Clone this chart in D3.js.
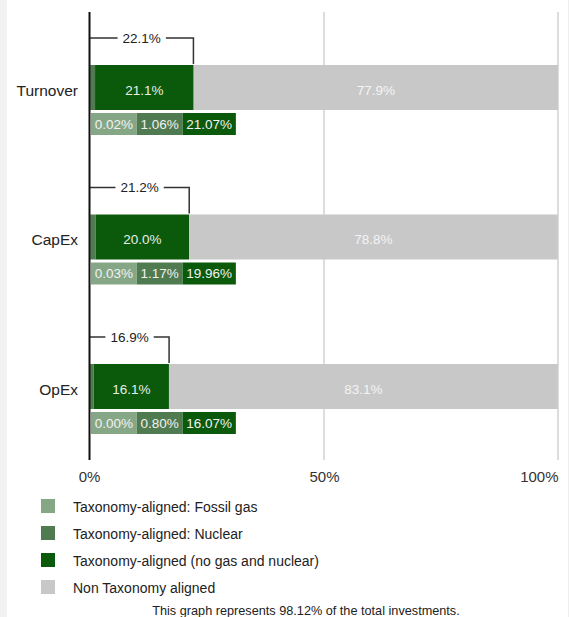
<!DOCTYPE html>
<html>
<head>
<meta charset="utf-8">
<script src="https://cdn.jsdelivr.net/npm/d3@7"></script>
<style>
  html, body { margin: 0; padding: 0; background: #fff; }
  svg { display: block; font-family: "Liberation Sans", Arial, sans-serif; }
</style>
</head>
<body>
<div id="chart"></div>
<script>
// chart data
const categories = ["Turnover", "CapEx", "OpEx"];
const fossilGas = [0.02, 0.03, 0.00];
const nuclear = [1.06, 1.17, 0.80];
const alignedOther = [21.07, 19.96, 16.07];
const nonAligned = [77.9, 78.8, 83.1];
const alignedTotal = [22.1, 21.2, 16.9];
const tickValues = [0, 50, 100];

const legendLabels = [
    "Taxonomy-aligned: Fossil gas",
    "Taxonomy-aligned: Nuclear",
    "Taxonomy-aligned (no gas and nuclear)",
    "Non Taxonomy aligned"
];
const colors = ["#86a786", "#507a50", "#0b590b", "#c8c8c8"];
const footnote = "This graph represents 98.12% of the total investments.";

const width = 569;
const height = 617;

const svg = d3.select("#chart")
    .append("svg")
    .attr("width", width)
    .attr("height", height);

// page frame: grey strip on the left, hairline on the right
svg.append("rect")
    .attr("x", 0).attr("y", 0)
    .attr("width", 7).attr("height", height)
    .style("fill", "#f2f2f2");
svg.append("line")
    .attr("x1", 568.5).attr("x2", 568.5)
    .attr("y1", 0).attr("y2", height)
    .style("stroke", "#eeeeee");

const x = d3.scaleLinear().domain([0, 100]).range([90, 558]);
const y = d3.scaleBand().domain(categories).range([15, 463.5]);

const barTop = d => y(d) + 50;
const barH = 45;
const subTop = d => y(d) + 98;
const subH = 22;

// gridlines
svg.append("g")
    .selectAll("line")
    .data(tickValues.filter(t => t > 0))
    .join("line")
    .attr("x1", d => x(d)).attr("x2", d => x(d))
    .attr("y1", 12).attr("y2", 460)
    .style("stroke", "#dddddd")
    .style("stroke-width", 2);

// stacked bars
const rows = categories.map((c, i) => {
    const vals = [fossilGas[i], nuclear[i], alignedOther[i], nonAligned[i]];
    let acc = 0;
    const segs = vals.map((v, k) => {
        const s = { cat: c, k, v, x0: acc, x1: acc + v };
        acc += v;
        return s;
    });
    return { cat: c, i, segs };
});

const rowG = svg.append("g")
    .selectAll("g")
    .data(rows)
    .join("g");

rowG.selectAll("rect.seg")
    .data(d => d.segs)
    .join("rect")
    .attr("class", "seg")
    .attr("x", d => x(d.x0))
    .attr("y", d => barTop(d.cat))
    .attr("width", d => Math.max(0, Math.min(x(d.x1), x(100)) - x(d.x0)))
    .attr("height", barH)
    .style("fill", d => colors[d.k]);

// labels inside the bar (aligned and non aligned)
rowG.selectAll("text.seglabel")
    .data(d => d.segs.filter(s => s.k >= 2))
    .join("text")
    .attr("class", "seglabel")
    .attr("x", d => (x(d.x0) + Math.min(x(d.x1), x(100))) / 2)
    .attr("y", d => barTop(d.cat) + barH / 2 + 2.5)
    .attr("dy", "0.35em")
    .attr("text-anchor", "middle")
    .style("font-size", "13.5px")
    .style("fill", d => d.k === 2 ? "#e8efe8" : "#f4f4f4")
    .text(d => d3.format(".1f")(d.v) + "%");

// detail boxes under each bar
rowG.each(function(row) {
    const g = d3.select(this);
    let cx = x(0) + 1;
    row.segs.slice(0, 3).forEach(s => {
        const box = g.append("rect")
            .attr("y", subTop(row.cat))
            .attr("height", subH)
            .style("fill", colors[s.k]);
        const t = g.append("text")
            .attr("y", subTop(row.cat) + subH / 2)
            .attr("dy", "0.35em")
            .attr("text-anchor", "middle")
            .style("font-size", "13.5px")
            .style("fill", "#f2f2f2")
            .text(d3.format(".2f")(s.v) + "%");
        const w = t.node().getComputedTextLength() + 7.5;
        box.attr("x", cx).attr("width", w);
        t.attr("x", cx + w / 2);
        cx += w;
    });
});

// bracket for total aligned share
rowG.each(function(row) {
    const g = d3.select(this);
    const by = y(row.cat) + 23;
    const xe = x(alignedTotal[row.i]);
    g.append("path")
        .attr("d", `M${x(0)},${by}H${xe}V${barTop(row.cat) - 1}`)
        .style("fill", "none")
        .style("stroke", "#333")
        .style("stroke-width", 1.5);
    const t = g.append("text")
        .attr("x", (x(0) + xe) / 2)
        .attr("y", by)
        .attr("dy", "0.35em")
        .attr("text-anchor", "middle")
        .style("font-size", "13.5px")
        .style("fill", "#222")
        .text(d3.format(".1f")(alignedTotal[row.i]) + "%");
    const bb = t.node().getBBox();
    g.insert("rect", "text:last-child")
        .attr("x", bb.x - 5).attr("y", by - 3)
        .attr("width", bb.width + 10).attr("height", 6)
        .style("fill", "#fff");
});

// category labels
svg.append("g")
    .selectAll("text")
    .data(categories)
    .join("text")
    .attr("x", 78)
    .attr("y", d => barTop(d) + barH / 2 + 3)
    .attr("dy", "0.35em")
    .attr("text-anchor", "end")
    .style("font-size", "15.5px")
    .style("fill", "#222")
    .text(d => d);

// zero axis line
svg.append("line")
    .attr("x1", x(0) - 0.5).attr("x2", x(0) - 0.5)
    .attr("y1", 12).attr("y2", 460)
    .style("stroke", "#111")
    .style("stroke-width", 2);

// x axis labels
const axis = svg.append("g")
    .attr("transform", "translate(0,468)")
    .call(d3.axisBottom(x).tickValues(tickValues).tickSize(0).tickFormat(d => d + "%"));
axis.select(".domain").remove();
axis.selectAll("text")
    .style("font-size", "15px")
    .style("font-family", "'Liberation Sans', Arial, sans-serif")
    .style("fill", "#333")
    .attr("dy", null)
    .attr("y", 14);
axis.selectAll(".tick")
    .filter(d => d === 100)
    .select("text")
    .attr("text-anchor", "end")
    .attr("x", 0);
axis.selectAll(".tick")
    .filter(d => d === 0)
    .select("text")
    .attr("x", -1);

// legend
const legend = svg.append("g")
    .selectAll("g")
    .data(legendLabels)
    .join("g")
    .attr("transform", (d, i) => `translate(41,${499 + i * 27})`);
legend.append("rect")
    .attr("width", 14).attr("height", 14)
    .style("fill", (d, i) => colors[i]);
legend.append("text")
    .attr("x", 32)
    .attr("y", 13)
    .style("font-size", "14px")
    .style("fill", "#222")
    .text(d => d);

// footnote
svg.append("text")
    .attr("x", 306)
    .attr("y", 615)
    .attr("text-anchor", "middle")
    .style("font-size", "12.7px")
    .style("fill", "#222")
    .text(footnote);
</script>
</body>
</html>
